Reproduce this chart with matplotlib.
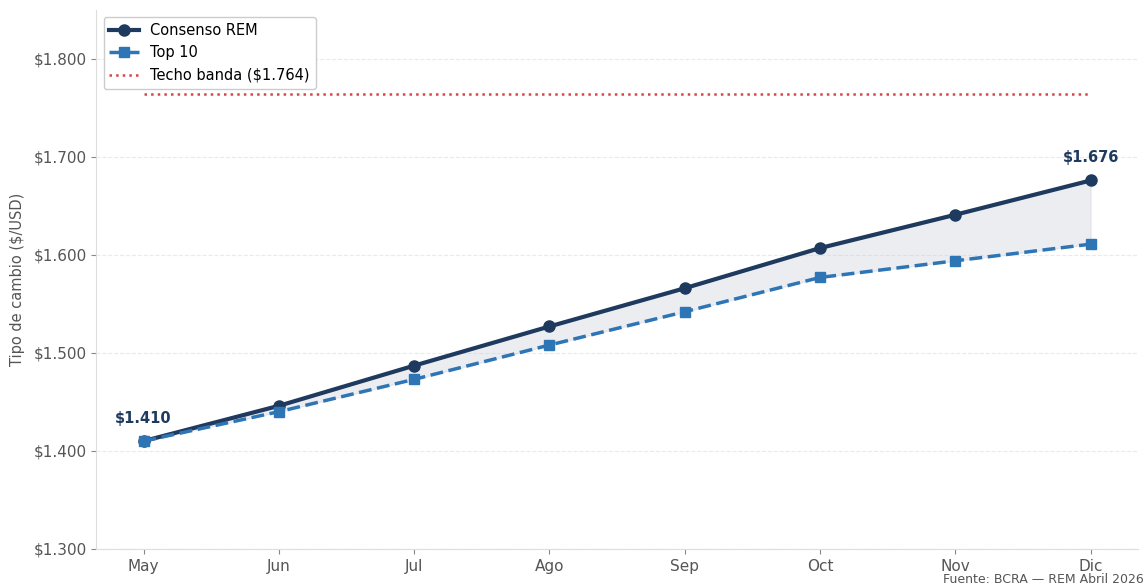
import matplotlib.pyplot as plt

# Datos (tipo de cambio, $/USD)
meses = ["May", "Jun", "Jul", "Ago", "Sep", "Oct", "Nov", "Dic"]
consenso = [1410, 1446, 1487, 1527, 1566, 1607, 1641, 1676]
top10 = [1410, 1440, 1473, 1508, 1542, 1577, 1594, 1611]
techo = 1764

navy = "#1f3a5f"
azul = "#2e75b6"

fig, ax = plt.subplots(figsize=(11.46, 5.87), dpi=100)
fig.subplots_adjust(left=0.084, right=0.993, top=0.983, bottom=0.065)

x = list(range(len(meses)))

ax.fill_between(x, top10, consenso, color="#c9cdd9", alpha=0.35, zorder=1)
ax.plot(x, consenso, color=navy, lw=3, marker="o", ms=8, label="Consenso REM", zorder=3)
ax.plot(x, top10, color=azul, lw=2.5, ls="--", marker="s", ms=6.5, label="Top 10", zorder=4)
ax.plot([x[0], x[-1]], [techo, techo], color="#d64545", lw=1.8, ls=":",
        label="Techo banda ($1.764)", zorder=2)

# etiquetas de extremos
for i in (0, len(x) - 1):
    ax.annotate("$" + f"{consenso[i]/1000:.3f}", (x[i], consenso[i]),
                xytext=(0, 13), textcoords="offset points", ha="center",
                fontsize=10.5, fontweight="bold", color=navy)

ax.set_xticks(x)
ax.set_xticklabels(meses)
ax.set_xlim(-0.35, 7.35)
ax.set_ylim(1300, 1850)
ax.set_yticks([1300, 1400, 1500, 1600, 1700, 1800])
ax.set_yticklabels(["$" + f"{v/1000:.3f}" for v in [1300, 1400, 1500, 1600, 1700, 1800]])
ax.set_ylabel("Tipo de cambio ($/USD)", fontsize=10.5, color="#555555", labelpad=6)
ax.tick_params(colors="#555555", labelsize=11)
ax.tick_params(axis="both", color="#888888")

ax.grid(axis="y", ls="--", color="#dddddd", alpha=0.6)
ax.set_axisbelow(True)
for s in ("top", "right"):
    ax.spines[s].set_visible(False)
for s in ("left", "bottom"):
    ax.spines[s].set_color("#dddddd")

ax.legend(loc="upper left", fontsize=10.5, framealpha=1, edgecolor="#cccccc")

fig.text(0.998, 0.002, "Fuente: BCRA — REM Abril 2026", ha="right", va="bottom",
         fontsize=9, color="#555555")

plt.savefig("out.png")
